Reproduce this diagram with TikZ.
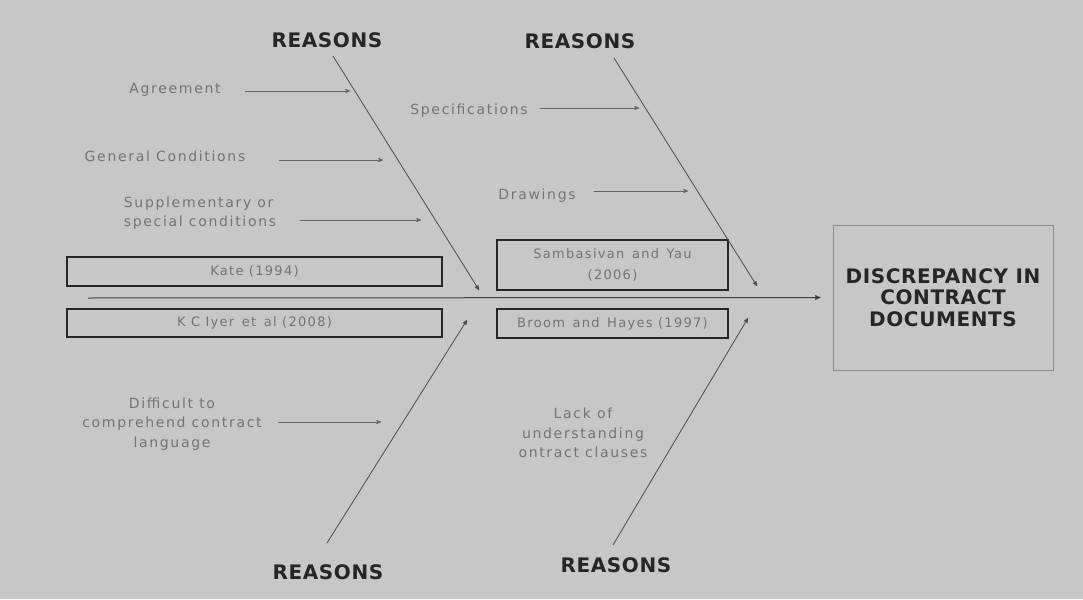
\documentclass[tikz,border=0pt]{standalone}
\usepackage{fontspec}
\setmainfont{DejaVu Sans}
\usetikzlibrary{arrows}

\begin{document}
\begin{tikzpicture}[x=1pt,y=-1pt]
\tikzstyle{reason} = [font=\fontsize{20}{24}\selectfont\bfseries\addfontfeatures{LetterSpace=3},
text=black!85, inner sep=2pt]
\tikzstyle{cause} = [font=\fontsize{14}{19.5}\selectfont\addfontfeatures{LetterSpace=12},
text=black!55, inner sep=0pt]
\tikzstyle{ref} = [rectangle, draw=black!85, line width=1.6pt, text=black!55, align=center,
font=\fontsize{13}{21}\selectfont\addfontfeatures{LetterSpace=10}, inner sep=0pt]
\tikzstyle{effect} = [rectangle, draw=black!45, line width=0.8pt, text=black!85, align=center,
font=\fontsize{20}{21.5}\selectfont\bfseries\addfontfeatures{LetterSpace=3},
minimum width=220pt, minimum height=145pt]
\tikzstyle{bone} = [draw, line width=0.8pt, black!70, ->, >=stealth'];
\tikzstyle{line} = [draw, line width=0.7pt, black!60, ->, >=stealth'];

% background
\fill[black!22] (0,0) rectangle (1083,599);
\useasboundingbox (0,0) rectangle (1083,599);

% effect
\node [effect] (effect) at (943,297.5) {DISCREPANCY IN\\CONTRACT\\DOCUMENTS};

% reasons
\node [reason] (r1) at (327,40) {REASONS};
\node [reason] (r2) at (580,41) {REASONS};
\node [reason] (r3) at (328,572) {REASONS};
\node [reason] (r4) at (616,565) {REASONS};

% references
\node [ref, minimum width=375pt, minimum height=29pt] (kate) at (254.5,271.5) {Kate (1994)};
\node [ref, minimum width=375pt, minimum height=28pt] (iyer) at (254.5,323) {K C Iyer\, et\, al (2008)};
\node [ref, minimum width=231pt, minimum height=50pt] (samba) at (612.5,265) {Sambasivan\, and\, Yau\\(2006)};
\node [ref, minimum width=231pt, minimum height=29pt] (broom) at (612.5,323.5) {Broom\, and\, Hayes (1997)};

% causes
\node [cause] (agree) at (175,90) {Agreement};
\node [cause] (gencon) at (165,156) {General Conditions};
\node [cause, align=left] (supp) at (200,213) {Supplementary or\\special conditions};
\node [cause] (spec) at (469,111) {Specifications};
\node [cause] (draw) at (537,196) {Drawings};
\node [cause, align=center] (diff) at (172,424) {Difficult to\\comprehend contract\\language};
\node [cause, align=center] (lack) at (583,433) {Lack of\\understanding\\ontract clauses};

% bones
\coordinate (s1) at (333,56);  \coordinate (t1) at (479,290);
\coordinate (s2) at (614,58);  \coordinate (t2) at (757,286);
\coordinate (s3) at (327,543); \coordinate (t3) at (467,320);
\coordinate (s4) at (613,545); \coordinate (t4) at (748,318);
\coordinate (tail) at (88,298);

\path [bone] (s1) -- (t1);
\path [bone] (s2) -- (t2);
\path [bone] (s3) -- (t3);
\path [bone] (s4) -- (t4);
\path [bone, line width=1pt, black!75, shorten >=12pt] (tail) -- (effect.west);

% cause arrows
\coordinate (a1) at (350,91);
\coordinate (a2) at (383,160);
\coordinate (a3) at (421,220);
\coordinate (a4) at (639,108);
\coordinate (a5) at (688,191);
\coordinate (a6) at (381,422);
\path [line] ([xshift=24pt]agree.east |- a1) -- (a1);
\path [line] ([xshift=33pt]gencon.east |- a2) -- (a2);
\path [line] ([xshift=24pt]supp.east |- a3) -- (a3);
\path [line] ([xshift=12pt]spec.east |- a4) -- (a4);
\path [line] ([xshift=18pt]draw.east |- a5) -- (a5);
\path [line] ([xshift=16pt]diff.east |- a6) -- (a6);

\end{tikzpicture}
\end{document}
